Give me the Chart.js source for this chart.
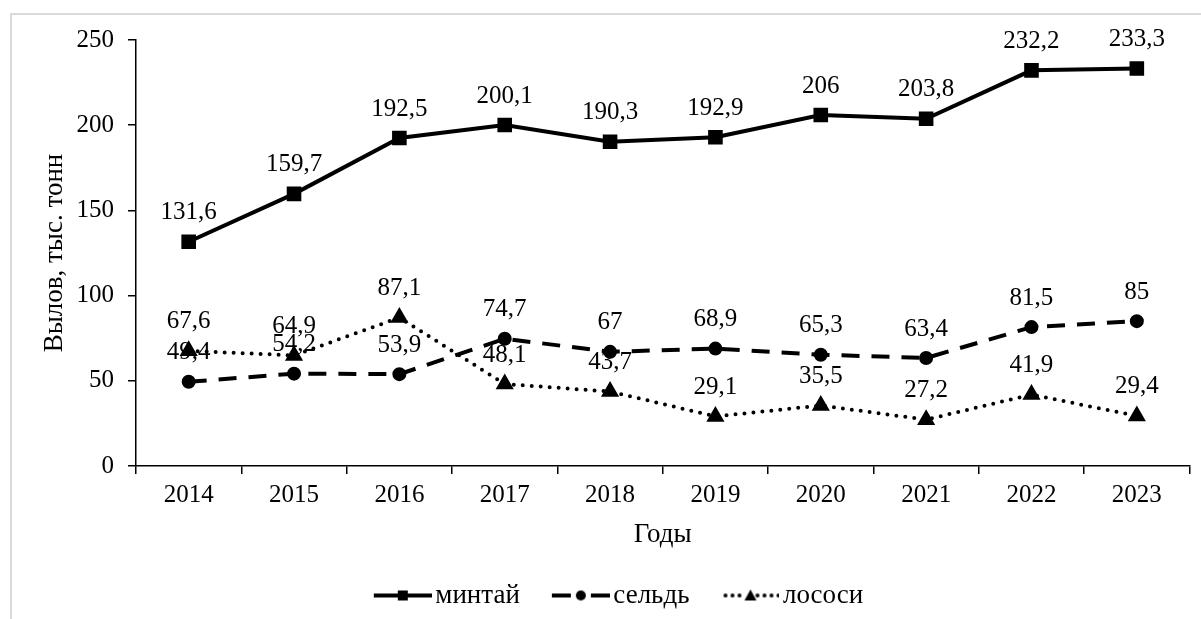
<!DOCTYPE html>
<html>
<head>
<meta charset="utf-8">
<script src="https://cdn.jsdelivr.net/npm/chart.js@4/dist/chart.umd.min.js"></script>
<style>
  html, body { margin: 0; padding: 0; background: #fff; }
  #wrap { position: relative; width: 1201px; height: 619px; }
  #frame { position: absolute; left: 10px; top: 13px; right: 0; bottom: 0;
           border-left: 2px solid #d9d9d9; border-top: 2px solid #d9d9d9; }
  canvas { position: absolute; left: 0; top: 0; }
</style>
</head>
<body>
<div id="wrap">
  <div id="frame"></div>
  <canvas id="chart" width="1201" height="619"></canvas>
</div>
<script>
const years = ['2014', '2015', '2016', '2017', '2018', '2019', '2020', '2021', '2022', '2023'];
const pollock = [131.6, 159.7, 192.5, 200.1, 190.3, 192.9, 206, 203.8, 232.2, 233.3];
const herring = [49.4, 54.2, 53.9, 74.7, 67, 68.9, 65.3, 63.4, 81.5, 85];
const salmon = [67.6, 64.9, 87.1, 48.1, 43.7, 29.1, 35.5, 27.2, 41.9, 29.4];
const yTicks = [0, 50, 100, 150, 200, 250];

const FONT = '"Liberation Serif", "Times New Roman", serif';
Chart.defaults.font.family = FONT;
Chart.defaults.color = '#000';

// legend icon: line piece with the marker in the middle (left part transparent)
function legendIcon(kind) {
    const c = document.createElement('canvas');
    c.width = 92; c.height = 16;
    const g = c.getContext('2d');
    g.strokeStyle = '#000'; g.fillStyle = '#000'; g.lineWidth = 4;
    const cx = 63, cy = 8;
    if (kind == 'square') {
        g.beginPath(); g.moveTo(34, cy); g.lineTo(92, cy); g.stroke();
        g.fillRect(cx - 5, cy - 5, 10, 10);
    } else if (kind == 'circle') {
        g.beginPath(); g.moveTo(34, cy); g.lineTo(53, cy); g.moveTo(73, cy); g.lineTo(92, cy); g.stroke();
        g.beginPath(); g.arc(cx, cy, 5, 0, Math.PI * 2); g.fill();
    } else {
        g.lineCap = 'round'; g.setLineDash([0, 7]);
        g.beginPath(); g.moveTo(38, cy); g.lineTo(56, cy); g.moveTo(70, cy); g.lineTo(92, cy); g.stroke();
        g.beginPath(); g.moveTo(cx, cy - 6); g.lineTo(cx + 6, cy + 5); g.lineTo(cx - 6, cy + 5); g.closePath(); g.fill();
    }
    return c;
}
const icons = [legendIcon('square'), legendIcon('circle'), legendIcon('triangle')];

const valueLabels = {
    id: 'valueLabels',
    afterDatasetsDraw(chart) {
        const ctx = chart.ctx;
        ctx.save();
        ctx.font = '25px ' + FONT;
        ctx.fillStyle = '#000';
        ctx.textAlign = 'center';
        ctx.textBaseline = 'middle';
        chart.data.datasets.forEach((ds, i) => {
            chart.getDatasetMeta(i).data.forEach((pt, j) => {
                ctx.fillText(String(ds.data[j]).replace('.', ','), pt.x, pt.y - 29);
            });
        });
        ctx.restore();
    }
};

new Chart(document.getElementById('chart').getContext('2d'), {
    type: 'line',
    data: {
        labels: years,
        datasets: [
            { label: 'минтай', data: pollock, borderColor: '#000', backgroundColor: '#000',
              borderWidth: 4, pointStyle: 'rect', pointRadius: 7.5, fill: false },
            { label: 'сельдь', data: herring, borderColor: '#000', backgroundColor: '#000',
              borderWidth: 4, borderDash: [18, 12], pointStyle: 'circle', pointRadius: 5, fill: false },
            { label: 'лососи', data: salmon, borderColor: '#000', backgroundColor: '#000',
              borderWidth: 4, borderDash: [0, 9], borderCapStyle: 'round', pointStyle: 'triangle', pointRadius: 6.5, fill: false }
        ]
    },
    options: {
        responsive: false,
        animation: false,
        layout: { padding: { left: 20, right: 8, top: 40, bottom: 0 } },
        elements: { line: { tension: 0 }, point: { borderWidth: 0 } },
        plugins: {
            tooltip: { enabled: false },
            legend: {
                position: 'bottom',
                labels: {
                    font: { size: 27 },
                    usePointStyle: true,
                    pointStyleWidth: 72,
                    padding: 8,
                    generateLabels: chart => chart.data.datasets.map((ds, i) => ({
                        text: ds.label, pointStyle: icons[i], fillStyle: '#000', strokeStyle: '#000',
                        lineWidth: 0, hidden: false, datasetIndex: i, fontColor: '#000'
                    }))
                }
            }
        },
        scales: {
            x: {
                offset: true,
                grid: { offset: true, drawOnChartArea: false, color: '#000', tickLength: 8, lineWidth: 1.5 },
                border: { color: '#000', width: 1.5 },
                ticks: { font: { size: 25 }, padding: 6, maxRotation: 0 },
                title: { display: true, text: 'Годы', font: { size: 27 }, padding: { top: 0, bottom: 23 } },
                afterFit: s => { s.height = 108; }
            },
            y: {
                min: 0, max: 250,
                afterBuildTicks: s => { s.ticks = yTicks.map(v => ({ value: v })); },
                grid: { drawOnChartArea: false, color: '#000', tickLength: 8, lineWidth: 1.5 },
                border: { color: '#000', width: 1.5 },
                ticks: { font: { size: 25 }, padding: 14 },
                title: { display: true, text: 'Вылов, тыс. тонн', font: { size: 27 }, padding: { top: 19, bottom: 0 } },
                afterFit: s => { s.width = 116; }
            }
        }
    },
    plugins: [valueLabels]
});
</script>
</body>
</html>
